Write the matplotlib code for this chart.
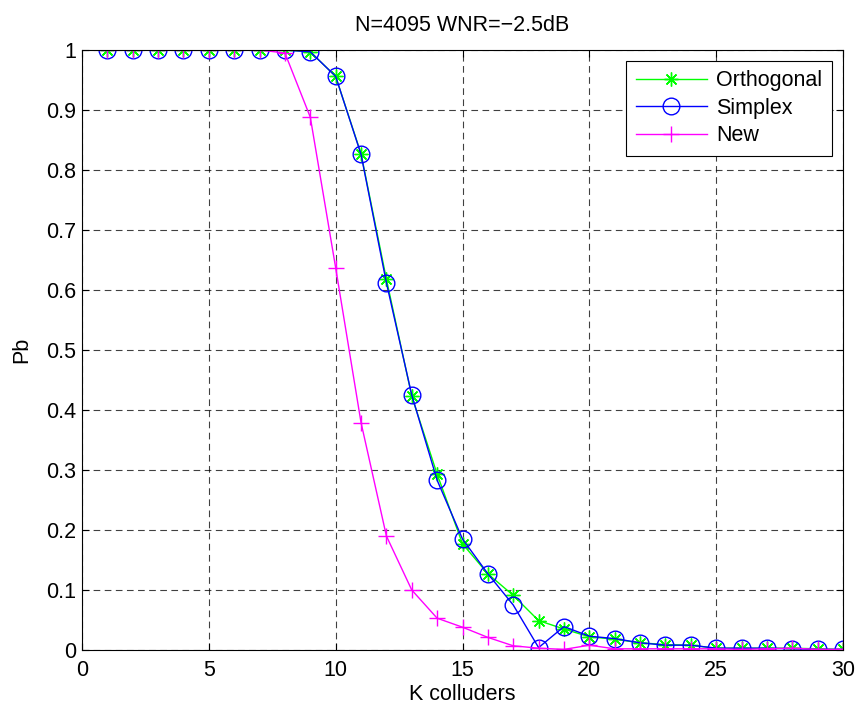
import numpy as np
import matplotlib
matplotlib.use('Agg')
import matplotlib.pyplot as plt

plt.rcParams['font.family'] = ['Liberation Sans', 'DejaVu Sans']

k = np.arange(1, 31)
orthogonal = [1, 1, 1, 1, 1, 1, 1, 1, 0.997, 0.956, 0.827, 0.618, 0.423, 0.293, 0.177,
              0.127, 0.091, 0.049, 0.035, 0.022, 0.018, 0.012, 0.009, 0.008, 0.003,
              0.003, 0.003, 0.003, 0.002, 0.001]
simplex = [1, 1, 1, 1, 1, 1, 1, 1, 0.997, 0.956, 0.826, 0.612, 0.425, 0.283, 0.185,
           0.127, 0.075, 0.004, 0.039, 0.023, 0.019, 0.012, 0.008, 0.008, 0.003,
           0.003, 0.003, 0.002, 0.001, 0.001]
new = [1, 1, 1, 1, 1, 1, 1, 0.995, 0.888, 0.637, 0.379, 0.19, 0.1, 0.053, 0.038,
       0.021, 0.007, 0.003, 0.001, 0.008, 0.002, 0.002, 0.002, 0.002, 0.002,
       0.001, 0.002, 0.003, 0.001, 0.001]

fs = 15.5

fig = plt.figure(figsize=(8.63, 7.13), dpi=100)
ax = fig.add_axes([82/863, 1-650/713, 761/863, 600/713])

# matlab style asterisk: plus and cross on top of each other
ax.plot(k, orthogonal, color=(0, 1, 0), marker=(8, 2, 0), markersize=10,
        mew=1, lw=1, label='Orthogonal')
ax.plot(k, simplex, color=(0, 0, 1), marker='o', markersize=12, mfc='none',
        mew=1, lw=1, label='Simplex')
ax.plot(k, new, color=(1, 0, 1), marker='+', markersize=11, mew=1, lw=1,
        label='New')

ax.set_xlim(0, 30)
ax.set_ylim(0, 1)
ax.set_xticks(np.arange(0, 31, 5))
ax.set_yticks(np.arange(0, 1.01, 0.1))
ax.set_yticklabels(['0', '0.1', '0.2', '0.3', '0.4', '0.5', '0.6', '0.7', '0.8', '0.9', '1'])
ax.tick_params(direction='in', top=True, right=True, labelsize=fs, length=5)
ax.tick_params(axis='x', pad=7)
ax.tick_params(axis='y', pad=4)
ax.grid(True, color='black', linestyle=(0, (6, 4)), lw=0.8, alpha=0.75)
for s in ax.spines.values():
    s.set_linewidth(0.8)

ax.set_xlabel('K colluders', fontsize=fs, labelpad=2)
ax.set_ylabel('Pb', fontsize=fs, labelpad=10)
ax.set_title('N=4095 WNR=\u22122.5dB', fontsize=fs, pad=14)

leg = ax.legend(loc='upper right', fontsize=fs, fancybox=False, framealpha=1,
                edgecolor='black', borderaxespad=0.5, handlelength=3.3,
                handletextpad=0.45, labelspacing=0.3, borderpad=0.45)
leg.get_frame().set_linewidth(0.8)

fig.savefig('out.png', dpi=100)
